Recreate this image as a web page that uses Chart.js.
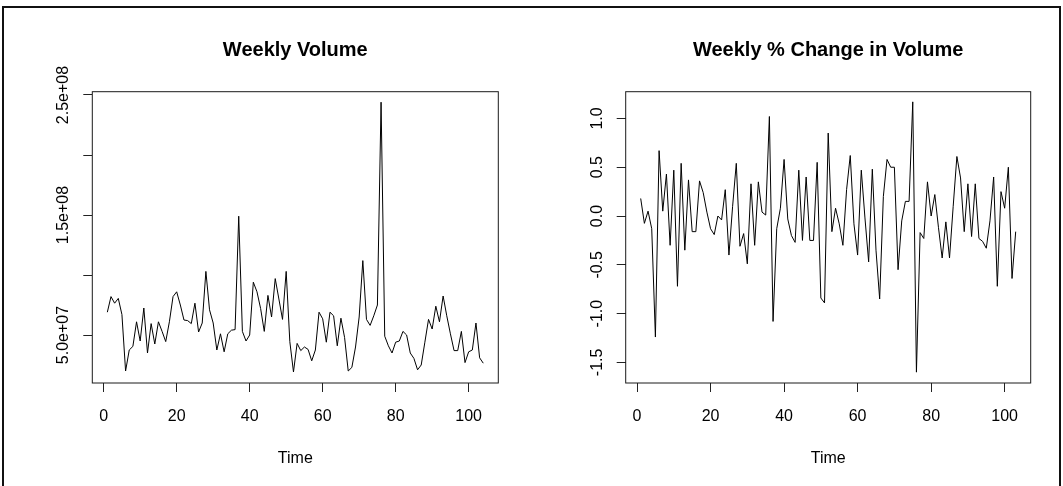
<!DOCTYPE html>
<html><head><meta charset="utf-8">
<script src="https://cdn.jsdelivr.net/npm/chart.js@4.4.1/dist/chart.umd.min.js"></script>
<style>
html,body{margin:0;padding:0;background:#fff;overflow:hidden}
#wrap{position:relative;width:1063px;height:486px}
#frame{position:absolute;left:2px;top:6px;width:1059px;height:600px;border:2px solid #111;box-sizing:border-box}
.pane{position:absolute;top:0;height:486px}
</style></head><body>
<div id="wrap">
<div id="frame"></div>
<div class="pane" style="left:0;width:531px"><canvas id="c1" width="531" height="486"></canvas></div>
<div class="pane" style="left:531px;width:532px"><canvas id="c2" width="532" height="486"></canvas></div>
</div>
<script>
// ---- data ----
const volume = [
  6.9e7, 8.2e7, 7.65e7, 8.05e7, 6.7e7, 2.0e7, 3.75e7, 4.05e7, 6.1e7, 4.5e7,
  7.25e7, 3.5e7, 5.95e7, 4.25e7, 6.1e7, 5.3e7, 4.45e7, 6.1e7, 8.2e7, 8.6e7,
  7.5e7, 6.25e7, 6.2e7, 5.95e7, 7.65e7, 5.25e7, 6.0e7, 10.3e7, 7.1e7, 6.0e7,
  3.75e7, 5.1e7, 3.6e7, 5.1e7, 5.4e7, 5.45e7, 14.9e7, 5.3e7, 4.5e7, 5.0e7,
  9.4e7, 8.6e7, 7.2e7, 5.3e7, 8.3e7, 6.5e7, 9.7e7, 8.0e7, 6.3e7, 10.3e7,
  4.45e7, 1.92e7, 4.3e7, 3.7e7, 4.0e7, 3.8e7, 2.85e7, 3.75e7, 6.9e7, 6.35e7,
  4.4e7, 6.9e7, 6.6e7, 4.1e7, 6.4e7, 4.8e7, 2.0e7, 2.3e7, 4.0e7, 6.5e7,
  11.2e7, 6.3e7, 5.8e7, 6.6e7, 7.5e7, 24.4e7, 4.9e7, 4.1e7, 3.5e7, 4.4e7,
  4.5e7, 5.3e7, 5.0e7, 3.5e7, 3.05e7, 2.1e7, 2.5e7, 4.4e7, 6.3e7, 5.5e7,
  7.4e7, 6.1e7, 8.25e7, 6.6e7, 5.1e7, 3.7e7, 3.7e7, 5.3e7, 2.7e7, 3.6e7,
  3.75e7, 6.0e7, 3.1e7, 2.65e7
];
const pctChange = [
  0.18, -0.075, 0.05, -0.13, -1.24, 0.67, 0.05, 0.43, -0.3, 0.47,
  -0.72, 0.54, -0.35, 0.37, -0.16, -0.16, 0.36, 0.24, 0.04, -0.13,
  -0.19, 0.0, -0.04, 0.27, -0.40, 0.1, 0.54, -0.31, -0.18, -0.49,
  0.33, -0.3, 0.35, 0.04, 0.01, 1.02, -1.08, -0.13, 0.08, 0.58,
  -0.03, -0.2, -0.27, 0.47, -0.25, 0.4, -0.25, -0.25, 0.55, -0.84,
  -0.89, 0.85, -0.16, 0.08, -0.08, -0.3, 0.27, 0.62, -0.08, -0.4,
  0.47, -0.02, -0.47, 0.48, -0.35, -0.85, 0.2, 0.58, 0.5, 0.5,
  -0.55, -0.05, 0.15, 0.15, 1.17, -1.6, -0.17, -0.23, 0.35, 0.0,
  0.22, -0.12, -0.43, -0.06, -0.43, 0.1, 0.61, 0.39, -0.16, 0.33,
  -0.21, 0.33, -0.23, -0.26, -0.33, -0.05, 0.4, -0.72, 0.25, 0.08,
  0.5, -0.64, -0.16
];
const firstWeek = 1;
const xTicks = [0, 20, 40, 60, 80, 100];
const xTickLabels = ['0', '20', '40', '60', '80', '100'];
const volTicks = [5e7, 1e8, 1.5e8, 2e8, 2.5e8];
const volTickLabels = ['5.0e+07', '', '1.5e+08', '', '2.5e+08'];
const pctTicks = [-1.5, -1.0, -0.5, 0.0, 0.5, 1.0];
const pctTickLabels = ['-1.5', '-1.0', '-0.5', '0.0', '0.5', '1.0'];
const titles = ['Weekly Volume', 'Weekly % Change in Volume'];
const xTitle = 'Time';

// ---- styling ----
const FAMILY = "'Liberation Sans', Arial, sans-serif";
const TICK_FONT = 16;
const TICK_LEN = 9;
Chart.defaults.font.family = FAMILY;
Chart.defaults.color = '#000';

function measure(str, size, weight) {
  const c = document.createElement('canvas').getContext('2d');
  c.font = (weight ? weight + ' ' : '') + size + 'px ' + FAMILY;
  return c.measureText(str).width;
}

const boxPlugin = {
  id: 'rbox',
  afterDraw(chart) {
    const a = chart.chartArea, ctx = chart.ctx;
    ctx.save();
    ctx.strokeStyle = '#1a1a1a';
    ctx.lineWidth = 1;
    ctx.strokeRect(a.left, a.top, a.right - a.left, a.bottom - a.top);
    ctx.restore();
  }
};

function makeChart(id, values, yTicks, yLabels, xMin, xMax, yMin, yMax, title, yAxisWidth, rightPad) {
  const pts = values.map((v, i) => ({x: firstWeek + i, y: v}));
  const widest = Math.max(...yLabels.map(s => measure(s, TICK_FONT)));
  const yPad = 28.5 - TICK_LEN - widest / 2;
  return new Chart(document.getElementById(id), {
    type: 'line',
    data: {datasets: [{data: pts, borderColor: '#000', borderWidth: 1, pointRadius: 0, tension: 0, fill: false}]},
    plugins: [boxPlugin],
    options: {
      responsive: false,
      animation: false,
      layout: {padding: {left: 0, right: rightPad, top: 0, bottom: 0}},
      plugins: {
        legend: {display: false},
        tooltip: {enabled: false},
        title: {
          display: true, text: title, fullSize: false, color: '#000',
          font: {size: 20, weight: 'bold', family: FAMILY},
          padding: {top: 38, bottom: 29.7}
        }
      },
      scales: {
        x: {
          type: 'linear', min: xMin, max: xMax,
          afterBuildTicks: s => { s.ticks = xTicks.map(v => ({value: v})); },
          afterFit: s => { s.height = 103; },
          border: {display: false},
          grid: {drawOnChartArea: false, drawTicks: true, tickLength: TICK_LEN, color: '#222', lineWidth: 1},
          ticks: {
            autoSkip: false, maxRotation: 0, minRotation: 0, padding: 15,
            font: {size: TICK_FONT}, color: '#000',
            callback: v => xTickLabels[xTicks.indexOf(v)] ?? ''
          },
          title: {display: true, text: xTitle, font: {size: TICK_FONT}, color: '#000', padding: {top: 0, bottom: 18}}
        },
        y: {
          type: 'linear', min: yMin, max: yMax,
          afterBuildTicks: s => { s.ticks = yTicks.map(v => ({value: v})); },
          afterFit: s => { s.width = yAxisWidth; },
          border: {display: false},
          grid: {drawOnChartArea: false, drawTicks: true, tickLength: TICK_LEN, color: '#222', lineWidth: 1},
          ticks: {
            autoSkip: false, minRotation: 90, maxRotation: 90, crossAlign: 'center', padding: yPad,
            font: {size: TICK_FONT}, color: '#000',
            callback: v => { const k = yTicks.findIndex(t => Math.abs(t - v) < 1e-9 * Math.max(1, Math.abs(t))); return k >= 0 ? yLabels[k] : ''; }
          }
        }
      }
    }
  });
}

makeChart('c1', volume, volTicks, volTickLabels, -3.12, 108.12, 1.0e7, 2.5275e8, titles[0], 92.3, 32.7);
makeChart('c2', pctChange, pctTicks, pctTickLabels, -3.08, 107.08, -1.711, 1.274, titles[1], 94.7, 32.3);
</script>
</body></html>
